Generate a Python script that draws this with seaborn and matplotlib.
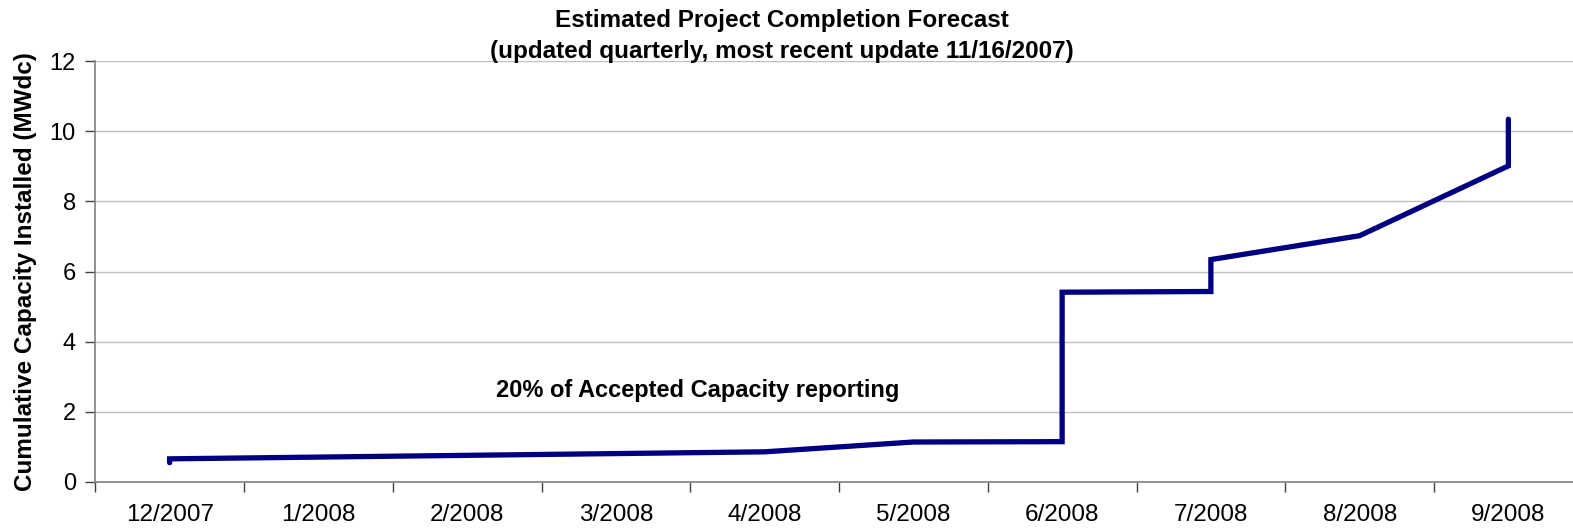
import numpy as np
import pandas as pd
import seaborn as sns
import matplotlib.pyplot as plt

months = ['12/2007', '1/2008', '2/2008', '3/2008', '4/2008', '5/2008',
          '6/2008', '7/2008', '8/2008', '9/2008']
# forecast points (month, cumulative MWdc); repeated months give the vertical steps
pt_month = ['12/2007', '12/2007', '4/2008', '5/2008', '6/2008', '6/2008',
            '7/2008', '7/2008', '8/2008', '9/2008', '9/2008']
pt_value = [0.55, 0.66, 0.86, 1.14, 1.15, 5.41, 5.43, 6.34, 7.02, 9.01, 10.34]

df = pd.DataFrame({'month': pt_month, 'capacity': pt_value})
df['pos'] = df['month'].map({m: i for i, m in enumerate(months)})

sns.set_style("white")
plt.rcParams['font.family'] = ['Liberation Sans', 'DejaVu Sans']
plt.rcParams['text.color'] = 'black'
plt.rcParams['xtick.color'] = 'black'
plt.rcParams['ytick.color'] = 'black'
plt.rcParams['axes.labelcolor'] = 'black'

fig = plt.figure(figsize=(15.73, 5.32), dpi=100)
ax = fig.add_axes([95.25/1573, 50/532, 1487.5/1573, 421/532])

sns.lineplot(data=df, x='pos', y='capacity', sort=False, estimator=None,
             color='#000080', linewidth=3.8, ax=ax,
             solid_capstyle='round', solid_joinstyle='miter')

ax.set_xlim(-0.5, len(months) - 0.5)
ax.set_ylim(0, 12)
ax.set_yticks(np.arange(0, 13, 2))
ax.set_xticks(range(len(months)))
ax.set_xticklabels(months)
ax.set_xticks(np.arange(-0.5, len(months), 1), minor=True)
ax.tick_params(axis='x', which='major', length=0, pad=16, labelsize=17.5)
ax.tick_params(axis='x', which='minor', length=7, width=1, color='#404040',
               direction='out', bottom=True)
ax.tick_params(axis='y', length=7, width=1, color='#404040', direction='out',
               left=True, pad=7, labelsize=17)

ax.yaxis.grid(True, color='#c0c0c0', linewidth=1)
ax.set_axisbelow(True)
for s in ['top', 'right']:
    ax.spines[s].set_visible(False)
for s in ['left', 'bottom']:
    ax.spines[s].set_color('#808080')
    ax.spines[s].set_linewidth(1.2)

ax.set_xlabel('')
ax.set_ylabel('Cumulative Capacity Installed (MWdc)', fontsize=17.5,
              fontweight='bold', labelpad=9)

ax.text(3.55, 2.6, '20% of Accepted Capacity reporting', fontsize=17,
        fontweight='bold', ha='center', va='center')

fig.text(0.497, 0.983, 'Estimated Project Completion Forecast\n'
         '(updated quarterly, most recent update 11/16/2007)',
         ha='center', va='top', fontsize=17.5, fontweight='bold',
         linespacing=1.45)

fig.savefig('out.png', dpi=100)
